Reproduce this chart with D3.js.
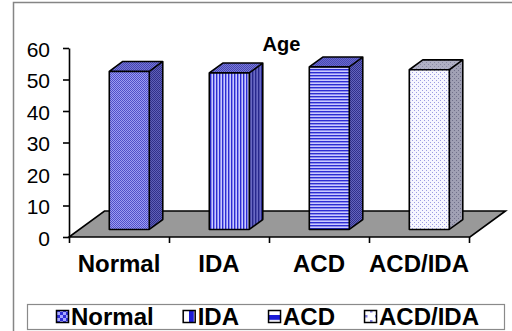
<!DOCTYPE html>
<html>
<head>
<meta charset="utf-8">
<script src="https://cdn.jsdelivr.net/npm/d3@7"></script>
<style>
  html, body { margin: 0; padding: 0; background: #fff; }
  svg { display: block; font-family: "Liberation Sans", Arial, sans-serif; }
</style>
</head>
<body>
<svg id="chart" width="512" height="331"></svg>
<script>
// Mean age per patient group
const categories = ["Normal", "IDA", "ACD", "ACD/IDA"];
const ageValues = [50.2, 49.7, 51.6, 50.7];
const yTicks = [0, 10, 20, 30, 40, 50, 60];
const chartTitle = "Age";

const svg = d3.select("#chart");
const defs = svg.append("defs");

// ---- fill patterns (front / side / top faces and legend swatches) ----
function checker(id, a, b, scale) {
  const p = defs.append("pattern").attr("id", id)
    .attr("patternUnits", "userSpaceOnUse").attr("width", 2).attr("height", 2);
  if (scale) p.attr("patternTransform", `scale(${scale})`);
  p.append("rect").attr("width", 2).attr("height", 2).attr("fill", a);
  p.append("rect").attr("width", 1).attr("height", 1).attr("fill", b);
  p.append("rect").attr("x", 1).attr("y", 1).attr("width", 1).attr("height", 1).attr("fill", b);
}
function stripes(id, a, b, vertical, scale) {
  const p = defs.append("pattern").attr("id", id)
    .attr("patternUnits", "userSpaceOnUse").attr("width", 3).attr("height", 3);
  if (scale) p.attr("patternTransform", `scale(${scale})`);
  p.append("rect").attr("width", 3).attr("height", 3).attr("fill", b);
  if (vertical) p.append("rect").attr("width", 1.4).attr("height", 3).attr("fill", a);
  else p.append("rect").attr("width", 3).attr("height", 1.4).attr("fill", a);
}
function dots(id, bg, dot, scale) {
  const p = defs.append("pattern").attr("id", id)
    .attr("patternUnits", "userSpaceOnUse").attr("width", 4).attr("height", 4);
  if (scale) p.attr("patternTransform", `scale(${scale})`);
  p.append("rect").attr("width", 4).attr("height", 4).attr("fill", bg);
  p.append("rect").attr("width", 1).attr("height", 1).attr("fill", dot);
  p.append("rect").attr("x", 2).attr("y", 2).attr("width", 1).attr("height", 1).attr("fill", dot);
}

checker("nFront", "#9c9cf2", "#5050c8");
checker("nSide", "#6060b8", "#30308a");
checker("nTop", "#7878d6", "#4444b0");
stripes("iFront", "#2c2cd2", "#cacaff", true);
stripes("iSide", "#28288c", "#6a6ac4", true);
checker("iTop", "#7a7ad8", "#4646b2");
stripes("aFront", "#2c2cd2", "#cacaff", false);
checker("aSide", "#6464bc", "#30308c");
checker("aTop", "#6a6acc", "#4848b4");
dots("xFront", "#f6f6ff", "#9c9ce2");
dots("xSide", "#a0a0b4", "#70708a");
dots("xTop", "#b0b0c4", "#8a8aa4");

checker("nLeg", "#a8a8ff", "#3030d8", 3);
stripes("iLeg", "#1c1cd8", "#ffffff", true, 3.5);
stripes("aLeg", "#1c1cd8", "#ffffff", false, 3.5);
dots("xLeg", "#ffffff", "#8080e0", 2.5);

const faceFills = [
  { front: "url(#nFront)", side: "url(#nSide)", top: "url(#nTop)", legend: "url(#nLeg)" },
  { front: "url(#iFront)", side: "url(#iSide)", top: "url(#iTop)", legend: "url(#iLeg)" },
  { front: "url(#aFront)", side: "url(#aSide)", top: "url(#aTop)", legend: "url(#aLeg)" },
  { front: "url(#xFront)", side: "url(#xSide)", top: "url(#xTop)", legend: "url(#xLeg)" }
];

// ---- outer chart frame ----
svg.append("rect")
  .attr("x", 13.5).attr("y", 2.5).attr("width", 600).attr("height", 600)
  .attr("fill", "none").attr("stroke", "#858585").attr("stroke-width", 1.5);

// ---- scales ----
const x = d3.scaleBand().domain(categories).range([69, 469])
  .paddingInner(0.6).paddingOuter(0.3);
const xEdge = d3.scaleLinear().domain([0, categories.length]).range([69, 469]);
const y = d3.scaleLinear().domain([0, 60]).range([237, 48]);

// floor depth vector (oblique projection)
const depth = { dx: 35.5, dy: -26 };
const zFront = 0.29, zBack = 0.67;

// ---- floor ----
const y0 = y(0);
const floorPts = [
  [xEdge(0), y0], [xEdge(categories.length) + 1, y0],
  [xEdge(categories.length) + 1 + depth.dx, y0 + depth.dy], [xEdge(0) + depth.dx, y0 + depth.dy]
];
svg.append("polygon")
  .attr("points", floorPts.map(p => p.join(",")).join(" "))
  .attr("fill", "#999999").attr("stroke", "#000").attr("stroke-width", 1.6)
  .attr("stroke-linejoin", "miter");

// ---- 3D bars ----
const bw = x.bandwidth();
const ox = depth.dx * zFront, oy = depth.dy * zFront;
const bdx = depth.dx * (zBack - zFront), bdy = depth.dy * (zBack - zFront);

const bars = svg.append("g").selectAll("g").data(categories).join("g");
bars.each(function (c, i) {
  const g = d3.select(this);
  const x0 = x(c) + ox, x1 = x0 + bw;
  const yt = y(ageValues[i]) + oy, yb = y(0) + oy;
  const f = faceFills[i];
  const poly = pts => pts.map(p => p.join(",")).join(" ");
  g.append("polygon")
    .attr("points", poly([[x1, yt], [x1 + bdx, yt + bdy], [x1 + bdx, yb + bdy], [x1, yb]]))
    .attr("fill", f.side);
  g.append("polygon")
    .attr("points", poly([[x0, yt], [x0 + bdx, yt + bdy], [x1 + bdx, yt + bdy], [x1, yt]]))
    .attr("fill", f.top);
  g.append("rect")
    .attr("x", x0).attr("y", yt).attr("width", bw).attr("height", yb - yt)
    .attr("fill", f.front);
  // outlines
  g.append("path")
    .attr("d", `M${x0},${yb}V${yt}L${x0 + bdx},${yt + bdy}H${x1 + bdx}V${yb + bdy}L${x1},${yb}Z` +
               `M${x0},${yt}H${x1}L${x1 + bdx},${yt + bdy}M${x1},${yt}V${yb}`)
    .attr("fill", "none").attr("stroke", "#000").attr("stroke-width", 1.6)
    .attr("stroke-linejoin", "round");
});

// ---- axes ----
const yAxis = svg.append("g").attr("transform", `translate(${xEdge(0)},0)`)
  .call(d3.axisLeft(y).tickValues(yTicks).tickSize(6).tickSizeOuter(0).tickPadding(13));
yAxis.selectAll("text").attr("font-size", 21).attr("fill", "#000").attr("dy", "0.4em")
  .attr("font-family", "'Liberation Sans', Arial, sans-serif");

const xAxis = svg.append("g").attr("transform", `translate(0,${y0})`)
  .call(d3.axisBottom(xEdge).tickValues(d3.range(categories.length + 1))
    .tickSize(6).tickSizeOuter(0).tickFormat(""));
xAxis.select(".domain").remove();

svg.selectAll(".domain, .tick line").attr("stroke", "#000").attr("stroke-width", 1.6);

// category labels
svg.append("g").selectAll("text").data(categories).join("text")
  .attr("x", c => x(c) + bw / 2).attr("y", 271.5)
  .attr("text-anchor", "middle").attr("font-size", 24).attr("font-weight", "bold")
  .text(c => c);

// title
svg.append("text").attr("x", 281.5).attr("y", 50.5)
  .attr("text-anchor", "middle").attr("font-size", 20).attr("font-weight", "bold")
  .text(chartTitle);

// ---- legend ----
svg.append("rect")
  .attr("x", 27.5).attr("y", 304.5).attr("width", 477).attr("height", 25)
  .attr("fill", "#fff").attr("stroke", "#8a8a8a").attr("stroke-width", 1.2);

const legend = svg.append("g");
let lx = 56;
categories.forEach((c, i) => {
  legend.append("rect")
    .attr("x", lx + 0.5).attr("y", 310.5).attr("width", 12).attr("height", 12)
    .attr("fill", faceFills[i].legend).attr("stroke", "#000").attr("stroke-width", 1.5);
  const t = legend.append("text")
    .attr("x", lx + 15).attr("y", 325)
    .attr("font-size", 24).attr("font-weight", "bold").text(c);
  lx += 15 + t.node().getComputedTextLength() + 29;
});
</script>
</body>
</html>
